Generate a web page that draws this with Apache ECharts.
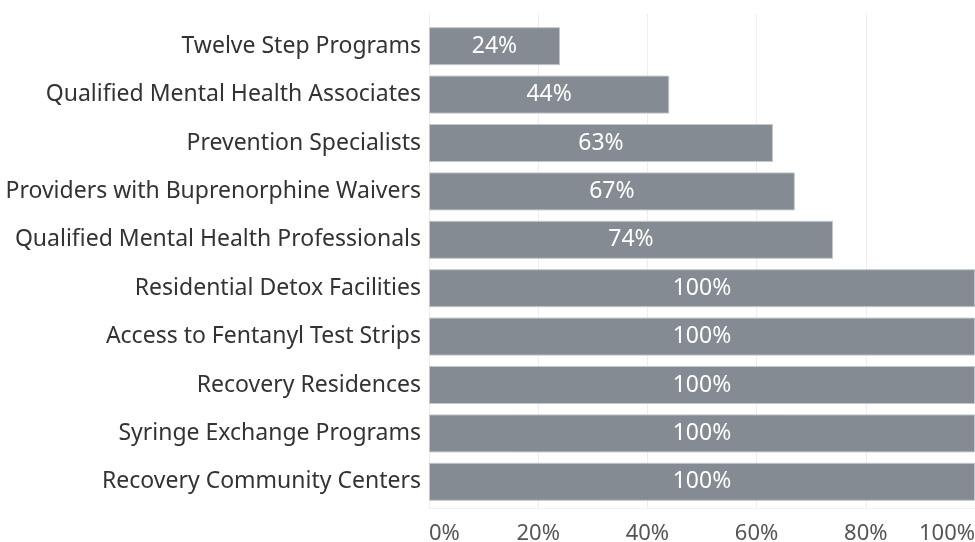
<!DOCTYPE html>
<html>
<head>
<meta charset="utf-8">
<script src="https://cdn.jsdelivr.net/npm/echarts@6/dist/echarts.min.js"></script>
<style>
  html, body { margin: 0; padding: 0; background: #fff; }
  #chart { width: 975px; height: 542px; }
</style>
</head>
<body>
<div id="chart"></div>
<script>
const categories = [
  'Twelve Step Programs',
  'Qualified Mental Health Associates',
  'Prevention Specialists',
  'Providers with Buprenorphine Waivers',
  'Qualified Mental Health Professionals',
  'Residential Detox Facilities',
  'Access to Fentanyl Test Strips',
  'Recovery Residences',
  'Syringe Exchange Programs',
  'Recovery Community Centers'
]
const values = [24, 44, 63, 67, 74, 100, 100, 100, 100, 100]
const ticks = [0, 20, 40, 60, 80, 100]

const chart = echarts.init(document.getElementById('chart'))
const font = 'Noto Sans'

chart.setOption({
  animation: false,
  grid: [
    { left: 429, right: 0, top: 22, bottom: 36, outerBoundsMode: 'none' },
    // taller backdrop grid, only for the light gridlines
    { left: 429, right: 0, top: 14, bottom: 34, outerBoundsMode: 'none' }
  ],
  xAxis: [{
    type: 'value',
    gridIndex: 0,
    min: 0,
    max: 100,
    interval: 20,
    axisLine: { show: false },
    axisTick: { show: false },
    splitLine: { show: false },
    axisLabel: {
      color: '#555',
      fontFamily: font,
      fontSize: 22,
      margin: 17,
      alignMinLabel: 'left',
      alignMaxLabel: 'right',
      formatter: v => ticks.includes(v) ? v + '%' : ''
    }
  }, {
    type: 'value',
    gridIndex: 1,
    min: 0,
    max: 100,
    interval: 20,
    axisLine: { show: true, lineStyle: { color: '#f0f0f0' } },
    axisTick: { show: false },
    axisLabel: { show: false },
    splitLine: { show: true, lineStyle: { color: '#eeeeee', width: 1 } }
  }],
  yAxis: [{
    type: 'category',
    gridIndex: 0,
    inverse: true,
    data: categories,
    axisLine: { show: false },
    axisTick: { show: false },
    axisLabel: { color: '#333', fontFamily: font, fontSize: 23, margin: 8 }
  }, {
    type: 'category',
    gridIndex: 1,
    data: categories,
    show: false
  }],
  series: [{
    type: 'bar',
    xAxisIndex: 0,
    yAxisIndex: 0,
    data: values,
    barWidth: 38,
    itemStyle: { color: '#858b92', borderColor: '#c4c7ca', borderWidth: 1 },
    label: {
      show: true,
      position: 'inside',
      color: '#fff',
      fontFamily: font,
      fontSize: 23,
      formatter: p => p.value + '%'
    }
  }]
})
</script>
</body>
</html>
